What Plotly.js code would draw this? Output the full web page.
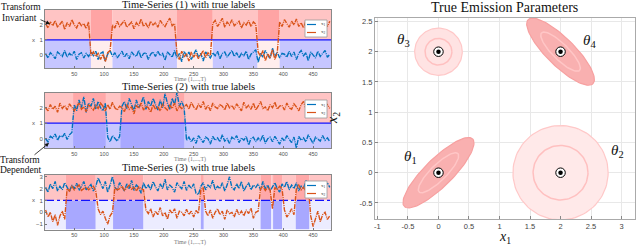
<!DOCTYPE html>
<html><head><meta charset="utf-8">
<script src="https://cdn.plot.ly/plotly-3.0.1.min.js"></script>
<style>html,body{margin:0;padding:0;background:#fff;}#chart{width:640px;height:247px;}</style>
</head><body><div id="chart"></div>
<script>
// ---------- DATA ----------
const T = 480;
const time = Array.from({length:120},(_,i)=>2+4*i); // sampled time index 1..T

// Time-series (1)
const p1x1 = [0.1,-0.2,0.15,0.0,-0.25,0.2,0.05,-0.1,0.3,-0.15,0.1,-0.05,0.25,-0.3,0.05,0.15,-0.2,0.1,-0.1,0.2,
 -0.05,0.25,-0.3,0.1,0.2,-0.4,0.05,0.3,-0.1,0.15,-0.2,0.05,0.25,-0.15,0.1,-0.25,0.2,0.0,-0.1,0.3,
 -0.2,0.1,0.15,-0.3,0.05,0.2,-0.1,0.25,-0.05,0.1,-0.35,0.2,0.05,-0.15,0.3,-0.2,0.1,-0.45,0.25,-0.1,
 0.2,-0.3,0.05,0.35,-0.15,0.1,-0.4,0.2,0.0,-0.2,0.15,-0.05,0.25,-0.25,0.1,0.2,-0.15,0.05,0.3,-0.1,
 0.15,-0.2,0.1,-0.05,0.25,-0.3,0.05,0.2,0.35,-0.5,0.1,-0.15,0.3,0.0,-0.25,0.45,-0.1,0.2,-0.2,0.1,
 0.05,-0.15,0.25,-0.1,0.2,-0.3,0.1,0.3,-0.05,0.15,-0.4,0.2,0.0,-0.2,0.25,-0.1,0.1,0.3,-0.15,0.05];
const p1x2 = [2.1,1.8,2.2,1.95,2.3,1.85,2.05,2.25,1.7,2.15,1.9,2.35,2.0,1.8,2.2,1.95,2.1,1.75,2.2,
 -0.05,0.2,-0.1,0.1,-0.3,0.05,-0.45,0.15,0.3,
 2.0,1.8,2.25,1.9,2.1,2.3,1.85,2.05,2.2,1.75,2.15,1.95,2.4,1.9,2.1,1.8,2.25,2.0,2.15,1.85,2.3,2.05,1.9,2.2,2.45,1.95,2.1,
 0.1,-0.3,0.25,-0.1,0.05,-0.4,0.2,-0.15,0.1,-0.25,0.0,0.3,-0.2,0.15,-0.05,
 2.1,2.3,1.9,2.15,2.45,1.85,2.2,2.0,2.35,1.95,2.1,2.25,1.8,2.15,2.0,2.3,1.9,2.2,2.05,
 0.2,-0.1,0.3,-0.4,0.1,-0.2,0.35,-0.3,0.15,
 2.2,1.9,2.35,2.05,1.85,2.25,2.0,2.4,1.9,2.15,1.8,2.3,2.05,1.95,2.2,2.1,1.85,2.3,2.0,2.15,1.9,2.25];
// Time-series (2)
const p2x1 = [0.0,-0.2,0.15,0.05,0.3,-0.1,0.2,0.1,0.35,-0.05,0.25,0.4,
 2.2,1.8,2.5,2.0,2.7,1.7,2.3,2.1,2.6,1.9,2.4,2.0,1.8,2.3,
 0.1,-0.2,0.2,0.0,-0.15,0.15,
 2.1,2.4,1.9,2.6,2.2,1.8,2.5,2.0,2.3,2.7,1.9,2.4,2.1,2.6,2.2,1.85,2.5,2.0,2.9,2.3,1.9,2.6,2.2,3.0,2.1,2.4,2.0,
 -0.1,0.1,-0.2,0.05,-0.3,0.2,-0.05,-0.25,0.1,0.0,-0.35,0.15,-0.1,0.05,-0.2,0.25,-0.15,0.0,-0.3,0.1,
 -0.05,0.2,-0.25,0.05,-0.1,0.15,-0.4,0.0,0.1,-0.2,0.05,-0.15,0.25,-0.3,0.0,0.1,-0.2,0.15,-0.1,-0.35,
 0.05,-0.15,0.2,-0.05,-0.25,0.1,-0.6,0.15,-0.1,0.05,-0.2,0.25,-0.05,-0.3,0.1,0.0,-0.15,0.2,-0.1,0.05,-0.2];
const p2x2 = [2.0,1.8,2.2,1.9,2.1,1.7,2.3,1.95,2.15,1.85,2.25,2.0,
 1.8,2.1,2.3,1.9,2.05,1.75,2.2,2.0,1.85,2.15,1.95,2.3,2.1,1.8,
 2.2,1.9,2.35,2.0,1.85,2.1,
 2.0,1.75,2.2,1.9,2.05,1.6,2.15,1.95,2.3,1.85,2.1,2.0,1.7,2.2,1.9,2.05,1.8,2.25,2.0,1.85,2.15,1.95,2.3,1.8,2.1,1.95,2.05,
 2.2,1.9,2.35,2.05,1.85,2.25,2.0,2.4,1.9,2.15,1.8,2.3,2.05,1.95,2.2,2.1,1.85,2.3,2.0,2.15,
 1.9,2.25,2.05,1.8,2.35,2.0,2.15,1.9,2.3,1.85,2.1,2.4,1.95,2.05,1.8,2.2,2.0,2.35,1.9,2.1,
 2.15,1.85,2.3,2.0,1.9,2.25,2.05,1.8,2.2,2.4,1.95,2.1,1.85,2.3,2.0,2.15,1.9,2.25,2.05,2.2,1.95];
// Time-series (3)
const p3x1 = [2.1,1.7,2.4,2.0,2.6,1.8,2.2,1.9,2.5,2.1,1.75,2.3,2.0,2.45,1.85,2.2,2.6,1.9,2.1,2.35,
 1.8,2.2,2.9,2.4,2.0,2.6,1.7,2.3,3.0,2.1,1.9,2.5,2.2,1.8,2.4,2.0,2.7,1.85,2.3,2.1,
 1.6,2.5,2.0,2.3,1.9,2.6,2.15,1.8,2.4,2.0,2.8,1.9,2.3,2.1,1.7,2.5,2.2,2.0,2.6,1.85,
 2.3,2.0,2.4,1.6,1.5,2.2,2.5,1.9,2.3,2.1,2.7,1.9,2.2,2.0,2.5,1.8,2.3,3.0,2.1,1.9,
 2.4,2.0,2.6,1.8,2.2,2.5,1.9,2.3,2.1,2.4,1.9,2.6,2.0,2.3,1.8,2.2,2.5,2.0,1.7,2.4,
 2.1,2.6,1.9,2.3,2.0,2.5,1.8,2.2,2.0,2.7,1.9,2.4,2.1,2.3,1.9,2.6,2.0,2.2,2.5,2.1];
const p3x2 = [0.2,-0.4,0.0,-0.8,-0.2,-1.1,-0.3,0.1,-0.6,
 2.0,1.8,2.2,1.9,2.1,2.3,1.85,2.0,2.15,1.9,2.05,2.2,1.8,
 0.3,-0.2,0.1,-0.5,-1.0,-0.3,0.0,
 2.1,1.9,2.0,2.2,1.85,2.05,2.3,1.95,2.1,1.8,2.15,2.0,1.9,
 0.2,-0.1,0.3,-0.4,0.1,-0.2,0.4,-0.3,0.0,-0.6,0.2,-0.1,0.3,-0.5,0.1,0.0,-0.3,0.25,-0.2,0.1,-0.4,0.15,-0.1,
 1.9,2.1,
 0.1,-0.3,0.2,-0.5,0.0,0.3,-0.2,0.1,-0.6,0.2,-0.1,0.0,-0.4,0.25,-0.2,0.1,-0.3,0.2,-0.1,0.35,-0.5,0.0,0.1,
 2.0,2.2,1.85,2.1,1.9,
 0.3,
 2.1,1.9,2.2,2.0,
 0.2,-0.4,-0.1,0.3,-0.2,
 2.0,2.3,1.9,2.1,1.8,2.2,
 -0.3,-1.2,-0.5,0.1,-0.8,-0.2,0.0,-0.6,-0.3];

// true label segments (start times and state)
const seg1Starts = [1,78,114,222,282,357,394];
const seg1States = [0,1,0,1,0,1,0];
const seg2Starts = [1,48,103,127,235];
const seg2States = [0,1,0,1,0];
const seg3Starts = [1,36,86,115,166,262,267,362,380,383,398,421,444];
const seg3States = [0,1,0,1,0,1,0,1,0,1,0,1,0];
const threshold = 1;

const timeTicks = [50,100,150,200,250,300,350,400,450];
const seriesNames = ['x<sub>1</sub>','x<sub>2</sub>'];

// True emission parameters
const thetaLabels = ['θ1','θ2','θ3','θ4'];
const thetaMu1 = [0,2,0,2];
const thetaMu2 = [0,0,2,2];
const thetaOuterA = [0.79,0.78,0.39,0.75];
const thetaOuterB = [0.23,0.78,0.39,0.23];
const thetaInnerA = [0.45,0.45,0.22,0.44];
const thetaInnerB = [0.13,0.45,0.22,0.13];
const thetaAngleDeg = [45,0,0,-45];
const thetaLabelX = [-0.46,2.94,-0.57,2.48];
const thetaLabelY = [0.26,0.36,2.2,2.17];

// ---------- STYLE / LAYOUT ----------
const W=640,H=247;
const px=v=>v/W, py=v=>1-v/H;
const BLUE='#0072BD', ORANGE='#D95319';
const SERIF='Liberation Serif, DejaVu Serif, serif';
const SANS='Liberation Sans, Arial, sans-serif';
const SERIES_DASH='5px,1px,1px,1px';

const panels = [
  {x1:p1x1,x2:p1x2,starts:seg1Starts,states:seg1States,range:[-0.87,3.0],ticks:[0,1,2],top:10,bot:68,
   topCol:['#FFC4C4','#FFA4A4'],botCol:['#C6C6FF','#FFEDED'],thrDash:'solid',title:'Time-Series (1) with true labels',titleY:5,timeY:79,leg:[305,20,327,37]},
  {x1:p2x1,x2:p2x2,starts:seg2Starts,states:seg2States,range:[-0.6,2.95],ticks:[0,1,2],top:93,bot:148,
   topCol:['#FFC4C4','#FFA8A8'],botCol:['#C8C8FF','#A8A8FF'],thrDash:'solid',title:'Time-Series (2) with true labels',titleY:87,timeY:159,leg:[305,100,327,118]},
  {x1:p3x1,x2:p3x2,starts:seg3Starts,states:seg3States,range:[-1.45,3.15],ticks:[-1,0,1,2,3],top:175,bot:229.5,
   topCol:['#FFC4C4','#FFA8A8'],botCol:['#ECECFF','#A8A8FF'],thrDash:'dashdot',title:'Time-Series (3) with true labels',titleY:168,timeY:242,leg:[305,181,327,198]}
];

const traces=[], shapes=[], annotations=[];
const layout = {width:W,height:H,margin:{l:0,r:0,t:0,b:0},paper_bgcolor:'#fff',plot_bgcolor:'#fff',showlegend:false};

panels.forEach((p,k)=>{
  const n=k+1, xa='x'+(n===1?'':n), ya='y'+(n===1?'':n);
  const xk='xaxis'+(n===1?'':n), yk='yaxis'+(n===1?'':n);
  layout[xk]={domain:[px(45),px(331)],range:[1,T],anchor:ya,tickvals:timeTicks,ticks:'inside',ticklen:2,tickcolor:'#777',
    showline:true,mirror:true,linecolor:'#888',linewidth:1,showgrid:false,zeroline:false,
    tickfont:{family:SANS,size:5.5,color:'#555'}};
  layout[yk]={domain:[py(p.bot),py(p.top)],range:p.range,anchor:xa,tickvals:p.ticks,ticks:'inside',ticklen:2,tickcolor:'#777',
    showline:true,mirror:true,linecolor:'#888',linewidth:1,showgrid:false,zeroline:false,
    tickfont:{family:SANS,size:6,color:'#555'}};
  p.starts.forEach((s,i)=>{
    const e = i+1<p.starts.length ? p.starts[i+1] : T;
    const st=p.states[i];
    shapes.push({type:'rect',xref:xa,yref:ya,x0:s,x1:e,y0:threshold,y1:p.range[1],fillcolor:p.topCol[st],line:{width:0},layer:'below'});
    shapes.push({type:'rect',xref:xa,yref:ya,x0:s,x1:e,y0:p.range[0],y1:threshold,fillcolor:p.botCol[st],line:{width:0},layer:'below'});
  });
  shapes.push({type:'line',xref:xa,yref:ya,x0:1,x1:T,y0:threshold,y1:threshold,line:{color:'#1010FF',width:1.2,dash:p.thrDash},layer:'below'});
  traces.push({x:time,y:p.x1,xaxis:xa,yaxis:ya,mode:'lines',line:{color:BLUE,width:1.4,dash:SERIES_DASH},name:'x1'});
  traces.push({x:time,y:p.x2,xaxis:xa,yaxis:ya,mode:'lines',line:{color:ORANGE,width:1.4,dash:SERIES_DASH},name:'x2'});
  annotations.push({xref:'paper',yref:'paper',x:px(p.timeY>200?190:190),y:py(p.timeY),text:'Time (1,...,T)',showarrow:false,font:{family:SERIF,size:6,color:'#777'},xanchor:'center',yanchor:'middle',borderpad:0});
  annotations.push({xref:'paper',yref:'paper',x:px(188),y:py(p.titleY),text:p.title,showarrow:false,font:{family:SERIF,size:10.5,color:'#111'},xanchor:'center',yanchor:'middle',borderpad:0});
  annotations.push({xref:'paper',yref:ya,x:px(33),y:threshold,text:'x',showarrow:false,font:{family:SANS,size:6,color:'#555'},xanchor:'center',yanchor:'middle'});
  const L=p.leg;
  shapes.push({type:'rect',xref:'paper',yref:'paper',x0:px(L[0]),x1:px(L[2]),y0:py(L[3]),y1:py(L[1]),fillcolor:'#fff',line:{color:'#999',width:0.8},layer:'above'});
  const ys=[L[1]+4.5,L[1]+12.5];
  [BLUE,ORANGE].forEach((c,j)=>{
    shapes.push({type:'line',xref:'paper',yref:'paper',x0:px(L[0]+2),x1:px(L[0]+12.5),y0:py(ys[j]),y1:py(ys[j]),line:{color:c,width:1.2,dash:'dashdot'},layer:'above'});
    annotations.push({xref:'paper',yref:'paper',x:px(L[0]+13.5),y:py(ys[j]),text:seriesNames[j],showarrow:false,font:{family:SERIF,size:5,color:'#333'},xanchor:'left',yanchor:'middle'});
  });
});

// Right: emission parameters
layout.xaxis4={domain:[px(375),px(635)],range:[-1.04,3.22],anchor:'y4',tickvals:[-1,-0.5,0,0.5,1,1.5,2,2.5,3],
  ticktext:['-1','-0.5','0','0.5','1','1.5','2','2.5','3'],ticks:'inside',ticklen:3,tickcolor:'#888',
  showline:true,mirror:true,linecolor:'#aaa',linewidth:1,showgrid:true,gridcolor:'#e8e8e8',gridwidth:1,zeroline:false,
  tickfont:{family:SANS,size:7.5,color:'#444'}};
layout.yaxis4={domain:[py(219),py(18)],range:[-0.765,2.557],anchor:'x4',tickvals:[-0.5,0,0.5,1,1.5,2,2.5],
  ticktext:['-0.5','0','0.5','1','1.5','2','2.5'],ticks:'inside',ticklen:3,tickcolor:'#888',
  showline:true,mirror:true,linecolor:'#aaa',linewidth:1,showgrid:true,gridcolor:'#e8e8e8',gridwidth:1,zeroline:false,
  tickfont:{family:SANS,size:7.5,color:'#444'}};

function ellipse(cx,cy,a,b,deg){
  const t=deg*Math.PI/180, xs=[], ys=[];
  for(let i=0;i<=100;i++){const u=2*Math.PI*i/100, ex=a*Math.cos(u), ey=b*Math.sin(u);
    xs.push(cx+ex*Math.cos(t)-ey*Math.sin(t)); ys.push(cy+ex*Math.sin(t)+ey*Math.cos(t));}
  return {xs,ys};
}
const fillCols=['#F9B0B0','#FFE9E9','#FFE3E3','#F9B0B0'];
const outerLine=['#F7A0A0','#FFC8C8','#FFC8C8','#F7A0A0'];
const innerLine=['#FFC6C6','#FFC0C0','#FFC0C0','#FFC6C6'];
thetaLabels.forEach((lab,i)=>{
  const o=ellipse(thetaMu1[i],thetaMu2[i],thetaOuterA[i],thetaOuterB[i],thetaAngleDeg[i]);
  traces.push({x:o.xs,y:o.ys,xaxis:'x4',yaxis:'y4',mode:'lines',fill:'toself',fillcolor:fillCols[i],line:{color:outerLine[i],width:1.2},hoverinfo:'skip'});
  const e=ellipse(thetaMu1[i],thetaMu2[i],thetaInnerA[i],thetaInnerB[i],thetaAngleDeg[i]);
  traces.push({x:e.xs,y:e.ys,xaxis:'x4',yaxis:'y4',mode:'lines',line:{color:innerLine[i],width:1.5},hoverinfo:'skip'});
  annotations.push({xref:'x4',yref:'y4',x:thetaLabelX[i],y:thetaLabelY[i],text:'<i>θ</i><sub>'+lab.slice(1)+'</sub>',showarrow:false,
    font:{family:SERIF,size:15,color:'#111'},xanchor:'center',yanchor:'middle'});
});
traces.push({x:thetaMu1,y:thetaMu2,xaxis:'x4',yaxis:'y4',mode:'markers',marker:{size:9.5,color:'#fff',line:{color:'#000',width:1}},hoverinfo:'skip'});
traces.push({x:thetaMu1,y:thetaMu2,xaxis:'x4',yaxis:'y4',mode:'markers',marker:{size:4.5,color:'#000'},hoverinfo:'skip'});

annotations.push({xref:'paper',yref:'paper',x:px(504),y:py(8),text:'True Emission Parameters',showarrow:false,font:{family:SERIF,size:14,color:'#111'},xanchor:'center',yanchor:'middle'});
annotations.push({xref:'paper',yref:'paper',x:px(505),y:py(237),text:'<i>x</i><sub>1</sub>',showarrow:false,font:{family:SERIF,size:14,color:'#111'},xanchor:'center',yanchor:'middle'});
annotations.push({xref:'paper',yref:'paper',x:px(333),y:py(118),text:'<i>x</i><sub>2</sub>',textangle:-90,showarrow:false,font:{family:SERIF,size:14,color:'#111'},xanchor:'center',yanchor:'middle'});

// side notes with arrows
annotations.push({xref:'paper',yref:'paper',x:px(21),y:py(7),text:'Transform',showarrow:false,font:{family:SERIF,size:9.5,color:'#111'},xanchor:'center',yanchor:'middle'});
annotations.push({xref:'paper',yref:'paper',x:px(19),y:py(18),text:'Invariant',showarrow:false,font:{family:SERIF,size:9.5,color:'#111'},xanchor:'center',yanchor:'middle'});
annotations.push({xref:'paper',yref:'paper',x:px(50),y:py(24),ax:-11,ay:-5,text:'',showarrow:true,arrowhead:2,arrowsize:1,arrowwidth:0.8,arrowcolor:'#111'});
annotations.push({xref:'paper',yref:'paper',x:px(20),y:py(159.5),text:'Transform',showarrow:false,font:{family:SERIF,size:9.5,color:'#111'},xanchor:'center',yanchor:'middle'});
annotations.push({xref:'paper',yref:'paper',x:px(21),y:py(170),text:'Dependent',showarrow:false,font:{family:SERIF,size:9.5,color:'#111'},xanchor:'center',yanchor:'middle'});
annotations.push({xref:'paper',yref:'paper',x:px(49),y:py(143),ax:-16,ay:13,text:'',showarrow:true,arrowhead:2,arrowsize:1,arrowwidth:0.8,arrowcolor:'#111'});

layout.shapes=shapes;
layout.annotations=annotations;
Plotly.newPlot('chart',traces,layout,{displayModeBar:false,staticPlot:true});
</script>
</body></html>
